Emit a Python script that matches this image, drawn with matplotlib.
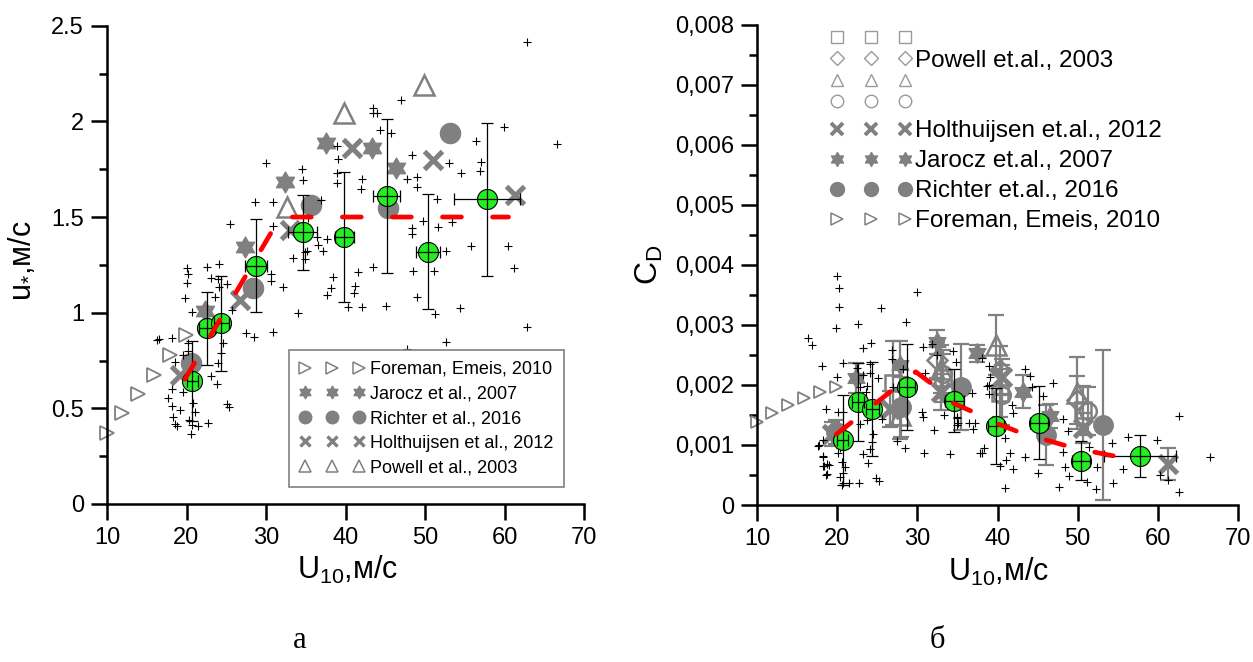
import numpy as np
import matplotlib
matplotlib.use("Agg")
import matplotlib.pyplot as plt
from matplotlib.path import Path
from matplotlib.lines import Line2D
from matplotlib.ticker import MultipleLocator, FuncFormatter

plt.rcParams['font.family'] = ['Liberation Sans', 'DejaVu Sans']
plt.rcParams['mathtext.fontset'] = 'custom'
plt.rcParams['mathtext.rm'] = 'Liberation Sans'
plt.rcParams['mathtext.it'] = 'Liberation Sans:italic'
plt.rcParams['mathtext.bf'] = 'Liberation Sans:bold'

# ---------------- data ----------------
# bin-averaged measurements (green circles)
U10_bins = [20.7, 22.6, 24.4, 28.7, 34.6, 39.85, 45.2, 50.4, 57.8]
ustar_mean = [0.643, 0.918, 0.944, 1.246, 1.42, 1.394, 1.61, 1.319, 1.593]
ustar_err = [0.21, 0.19, 0.25, 0.245, 0.195, 0.34, 0.40, 0.30, 0.40]
ustar_xerr = [0.7, 1.0, 1.0, 1.4, 1.8, 1.2, 1.7, 1.5, 4.2]
cd_mean = [0.00108, 0.00172, 0.00160, 0.00197, 0.00174, 0.00132, 0.00137, 0.00074, 0.00082]
cd_err = [0.00075, 0.00065, 0.00078, 0.00072, 0.00053, 0.00063, 0.00061, 0.00033, 0.00035]
cd_xerr = [0.7, 0.8, 0.8, 1.0, 1.2, 1.0, 1.1, 1.1, 4.5]

# parameterisation curves (red dashed)
ustar_fit_U = [19.8, 31.8, 60.5]
ustar_fit = [0.652, 1.5, 1.5]
cd_fit_U = [19.9, 29.8, 32.0, 34.1, 36.8, 39.9, 42.4, 45.7, 48.2, 51.4, 54.0, 58.0]
cd_fit = [0.00118, 0.00222, 0.00200, 0.00172, 0.00156, 0.00136, 0.00123,
          0.00110, 0.00100, 0.00090, 0.00083, 0.00074]

# individual estimates (black crosses), u* panel
ustar_pts_U = [29.96, 34.57, 34.69, 28.62, 30.84, 25.47, 30.92, 35.32, 36.38, 34.91,
               34.91, 33.43, 30.59, 30.59, 32.18, 20.03, 20.23, 20.10, 22.62, 24.13,
               23.04, 24.00, 25.06, 24.13, 19.81, 23.58, 20.65, 25.76, 34.06, 16.25,
               16.55, 18.14, 20.15, 20.23, 18.55, 18.14, 19.52, 17.63, 18.14, 19.18,
               18.34, 18.55, 18.76, 20.31, 20.65, 21.40, 22.74, 20.52, 20.77, 21.07,
               23.08, 23.87, 24.00, 24.30, 24.55, 25.06, 25.39, 27.45, 28.49, 30.84,
               62.78, 46.93, 43.49, 43.42, 44.00, 44.34, 45.69, 59.94, 56.42, 66.57,
               38.89, 39.09, 48.31, 53.06, 57.00, 56.92, 54.48, 38.89, 38.96, 42.03,
               41.95, 47.69, 48.95, 48.95, 51.46, 36.91, 49.70, 51.67, 48.31, 48.31,
               53.43, 37.62, 36.57, 37.12, 35.12, 52.64, 55.74, 60.48, 61.23, 41.19,
               41.07, 38.14, 37.71, 38.39, 41.61, 43.42, 48.44, 51.13, 49.03, 40.35,
               42.11, 45.09, 54.40, 51.26, 62.79, 52.60, 47.69, 19.52]
ustar_pts = [1.784, 1.750, 1.694, 1.579, 1.579, 1.464, 1.455, 1.493, 1.397, 1.319,
             1.279, 1.284, 1.201, 1.166, 1.133, 1.232, 1.201, 1.154, 1.237, 1.253,
             1.183, 1.175, 1.150, 1.133, 1.078, 1.084, 1.005, 1.014, 0.997, 0.857,
             0.862, 0.869, 0.843, 0.801, 0.744, 0.600, 0.587, 0.556, 0.512, 0.491,
             0.453, 0.418, 0.408, 0.439, 0.413, 0.408, 0.422, 0.364, 0.526, 0.482,
             0.669, 0.627, 0.739, 0.791, 0.843, 0.523, 0.509, 0.895, 0.875, 0.901,
             2.413, 2.112, 2.068, 2.042, 2.045, 1.955, 1.938, 1.969, 1.899, 1.880,
             1.873, 1.802, 1.824, 1.784, 1.790, 1.741, 1.729, 1.729, 1.676, 1.699,
             1.647, 1.697, 1.711, 1.659, 1.594, 1.589, 1.479, 1.446, 1.441, 1.411,
             1.476, 1.384, 1.354, 1.324, 1.324, 1.324, 1.349, 1.349, 1.232, 1.140,
             1.101, 1.128, 1.093, 1.185, 1.214, 1.241, 1.220, 1.220, 1.084, 1.031,
             1.031, 1.035, 1.023, 0.992, 0.927, 0.849, 0.809, 0.779]

# individual estimates (black crosses), C_D panel
cd_pts_U = [19.94, 20.22, 20.22, 19.85, 22.63, 25.46, 29.99, 28.58, 16.40, 16.82,
            24.21, 23.18, 26.80, 30.74, 31.78, 18.07, 20.69, 24.09, 26.80, 22.51,
            19.94, 23.18, 24.09, 25.12, 22.84, 23.75, 23.59, 28.16, 27.00, 30.95,
            18.60, 20.14, 20.76, 22.84, 23.68, 25.55, 24.43, 24.30, 24.09, 23.18,
            23.88, 30.56, 30.68, 32.13, 27.42, 28.45, 30.86, 34.06, 17.77, 18.27,
            18.19, 18.27, 18.69, 19.02, 18.60, 20.14, 20.35, 20.56, 20.97, 20.76,
            20.35, 20.76, 21.51, 22.76, 24.84, 25.25, 20.56, 32.40, 34.48, 34.78,
            33.32, 34.90, 35.02, 38.02, 38.97, 39.05, 38.97, 38.97, 43.42, 44.04,
            44.25, 46.95, 45.62, 36.77, 34.98, 34.98, 36.48, 37.18, 36.98, 38.02,
            38.35, 40.92, 41.76, 41.96, 41.55, 41.05, 40.30, 41.96, 43.42, 45.08,
            40.92, 47.69, 48.19, 48.81, 48.19, 48.40, 48.94, 51.43, 52.36, 54.23,
            54.36, 51.11, 52.27, 56.30, 59.91, 62.66, 55.60, 60.25, 61.29, 62.66,
            66.50, 17.64, 18.20, 18.35, 18.77, 38.63, 37.80]
cd_pts = [0.003817, 0.003612, 0.003295, 0.002955, 0.003017, 0.003288, 0.003545, 0.003045,
          0.002778, 0.002667, 0.002695, 0.002612, 0.002583, 0.002628, 0.002678, 0.002322,
          0.002362, 0.002345, 0.002428, 0.002278, 0.002138, 0.002167, 0.002195, 0.002112,
          0.001972, 0.001983, 0.001888, 0.002262, 0.001962, 0.002205, 0.001595, 0.001555,
          0.001555, 0.001350, 0.001417, 0.001428, 0.001183, 0.001055, 0.000928, 0.000850,
          0.000705, 0.001555, 0.001472, 0.001250, 0.001072, 0.000945, 0.000872, 0.000850,
          0.001000, 0.001083, 0.000805, 0.000650, 0.000683, 0.000667, 0.000500, 0.000872,
          0.000945, 0.000722, 0.000638, 0.000528, 0.000472, 0.000372, 0.000372, 0.000362,
          0.000445, 0.000405, 0.000333, 0.002500, 0.002572, 0.002388, 0.001500, 0.001472,
          0.001362, 0.002455, 0.002317, 0.002138, 0.002000, 0.001850, 0.002262, 0.002155,
          0.001962, 0.002028, 0.001817, 0.001862, 0.001445, 0.001333, 0.001372, 0.001362,
          0.001262, 0.000872, 0.000945, 0.001112, 0.001667, 0.001538, 0.000862, 0.000750,
          0.000650, 0.000595, 0.000805, 0.000528, 0.000278, 0.000305, 0.001428, 0.001233,
          0.000888, 0.000638, 0.000483, 0.000962, 0.000638, 0.001028, 0.000372, 0.000388,
          0.000262, 0.001138, 0.001083, 0.001488, 0.000595, 0.000500, 0.000417, 0.000222,
          0.000805, 0.000983, 0.000820, 0.000650, 0.000517, 0.001980, 0.000860]

# literature data, u* panel
foreman_U = [10.0, 11.9, 13.9, 15.9, 17.9, 19.9]
foreman_ustar = [0.37, 0.474, 0.573, 0.674, 0.779, 0.883]
jarocz_U = [22.3, 27.4, 32.4, 37.5, 43.3, 46.4]
jarocz_ustar = [1.01, 1.345, 1.685, 1.885, 1.863, 1.755]
richter_U = [20.6, 28.4, 35.6, 45.3, 53.2]
richter_ustar = [0.735, 1.128, 1.563, 1.546, 1.937]
holt_U = [19.2, 26.7, 33.0, 40.8, 51.0, 61.3]
holt_ustar = [0.674, 1.066, 1.432, 1.859, 1.80, 1.615]
powell_U = [32.7, 39.8, 49.9]
powell_ustar = [1.554, 2.042, 2.19]

# literature data, C_D panel
foreman_cd = [0.00139, 0.00153, 0.00167, 0.00178, 0.00189, 0.00197]
jarocz_cd_U = [22.4, 27.8, 32.4, 37.4, 43.2, 46.5]
jarocz_cd = [0.00211, 0.00233, 0.00272, 0.00253, 0.00189, 0.00148]
jarocz_cd_err = [0.00025, 0.0004, 0.0002, 0.00014, 0.00028, 0.0002]
richter_cd_U = [19.9, 28.0, 35.5, 46.1, 53.2]
richter_cd = [0.00122, 0.00164, 0.00197, 0.00117, 0.00133]
richter_cd_err = [0.0002, 0.0005, 0.00072, 0.0005, 0.00125]
holt_cd_U = [19.3, 26.6, 33.0, 40.5, 50.7, 61.3]
holt_cd = [0.00119, 0.00160, 0.00188, 0.00214, 0.00128, 0.00068]
holt_cd_err = [0.0002, 0.0003, 0.0003, 0.0003, 0.00025, 0.00027]
powell_sq_U = [27.0, 33.2, 40.3, 50.7]
powell_sq = [0.00203, 0.00211, 0.00186, 0.00158]
powell_sq_err = [0.0007, 0.0004, 0.0004, 0.0004]
powell_dm_U = [32.4, 40.3, 49.9]
powell_dm = [0.00242, 0.00225, 0.00175]
powell_dm_err = [0.0003, 0.0004, 0.0004]
powell_tr_U = [27.8, 33.0, 39.8, 49.9]
powell_tr = [0.00150, 0.00226, 0.00267, 0.00186]
powell_tr_err = [0.0004, 0.0004, 0.0005, 0.0006]
powell_ci_U = [33.2, 40.5, 51.3]
powell_ci = [0.00219, 0.00183, 0.00156]
powell_ci_err = [0.0004, 0.0005, 0.0004]

# ---------------- styles ----------------
GRAY = '#808080'
LGRAY = '#9a9a9a'
GREEN = '#22ee22'
RED = '#ff0000'

ang_out = np.deg2rad(90 + 60 * np.arange(6))
ang_in = ang_out + np.deg2rad(30)
r_in = 1 / np.sqrt(3)
verts = []
for a, b in zip(ang_out, ang_in):
    verts.append((np.cos(a), np.sin(a)))
    verts.append((r_in * np.cos(b), r_in * np.sin(b)))
verts.append(verts[0])
HEXAGRAM = Path(verts, closed=True)

fig = plt.figure(figsize=(12.53, 6.62), dpi=100)
axL = fig.add_axes([107 / 1253, 158 / 662, 477 / 1253, 478.3 / 662])
axR = fig.add_axes([757 / 1253, 157 / 662, 481 / 1253, 480 / 662])


def style_axes(ax):
    for s in ('top', 'right'):
        ax.spines[s].set_visible(False)
    for s in ('left', 'bottom'):
        ax.spines[s].set_linewidth(1.8)
    ax.tick_params(which='major', direction='out', length=11.5, width=1.8,
                   labelsize=17, pad=5)
    ax.tick_params(which='minor', direction='out', length=5.8, width=1.8)
    ax.xaxis.set_major_locator(MultipleLocator(10))
    ax.set_xlim(10, 70)


def fit_line(ax, x, y):
    ln, = ax.plot(x, y, color=RED, lw=3.4, zorder=7, dash_capstyle='round',
                  solid_capstyle='round')
    ln.set_dashes((4.0, 6.6))
    ln.set_dash_capstyle('round')


# ---------------- left panel: u* ----------------
ax = axL
style_axes(ax)
ax.set_ylim(0, 2.5)
ax.yaxis.set_major_locator(MultipleLocator(0.5))
ax.yaxis.set_minor_locator(MultipleLocator(0.25))
ax.yaxis.set_major_formatter(FuncFormatter(lambda v, p: f'{v:g}'))

ax.plot(foreman_U, foreman_ustar, ls='none', marker='>', ms=10, mfc='none',
        mec=GRAY, mew=1.3, zorder=2, clip_on=False)
ax.plot(jarocz_U, jarocz_ustar, ls='none', marker=HEXAGRAM, ms=15, color=GRAY,
        mec=GRAY, zorder=2)
ax.plot(richter_U, richter_ustar, ls='none', marker='o', ms=14.5, color=GRAY,
        mec=GRAY, zorder=2)
ax.plot(holt_U, holt_ustar, ls='none', marker='x', ms=13, mec=GRAY, mew=3.6, zorder=2)
ax.plot(powell_U, powell_ustar, ls='none', marker='^', ms=14, mfc='none',
        mec=GRAY, mew=1.8, zorder=2)
ax.plot(ustar_pts_U, ustar_pts, ls='none', marker='+', ms=5.5, mew=0.8,
        color='black', zorder=3)
ax.plot(U10_bins, ustar_mean, ls='none', marker='o', ms=14.4, mfc=GREEN,
        mec='black', mew=0.8, zorder=4)
ax.errorbar(U10_bins, ustar_mean, yerr=ustar_err, xerr=ustar_xerr, fmt='none',
            ecolor='black', elinewidth=0.9, capsize=4.5, capthick=0.9, zorder=5)
fit_line(ax, ustar_fit_U, ustar_fit)

ax.set_xlabel('U$_{10}$,м/с', fontsize=22)
ax.xaxis.set_label_coords(0.504, -0.105)
ax.xaxis.label.set_va('top')
ax.set_ylabel('u$_{*}$,м/с', fontsize=22)
ax.yaxis.set_label_coords(-0.147, 0.508)

hL = [
    Line2D([], [], ls='none', marker='>', ms=8, mfc='none', mec=GRAY, mew=1.1),
    Line2D([], [], ls='none', marker=HEXAGRAM, ms=9, color=GRAY),
    Line2D([], [], ls='none', marker='o', ms=9, color=GRAY),
    Line2D([], [], ls='none', marker='x', ms=7.5, mec=GRAY, mew=2.4),
    Line2D([], [], ls='none', marker='^', ms=8, mfc='none', mec=GRAY, mew=1.1),
]
lL = ['Foreman, Emeis, 2010', 'Jarocz et al., 2007', 'Richter et al., 2016',
      'Holthuijsen et al., 2012', 'Powell et al., 2003']
legL = ax.legend(hL, lL, loc='lower right', bbox_to_anchor=(0.958, 0.0355),
                 borderaxespad=0, numpoints=3, handlelength=3.58,
                 handletextpad=0.31, labelspacing=0.42, borderpad=0.6,
                 fontsize=13, fancybox=False, framealpha=1, edgecolor=GRAY)
legL.get_frame().set_linewidth(1.2)
legL.set_zorder(10)

# ---------------- right panel: C_D ----------------
ax = axR
style_axes(ax)
ax.set_ylim(0, 0.008)
ax.yaxis.set_major_locator(MultipleLocator(0.001))
ax.yaxis.set_minor_locator(MultipleLocator(0.0005))
ax.yaxis.set_major_formatter(
    FuncFormatter(lambda v, p: '0' if abs(v) < 1e-12 else f'{v:.3f}'.replace('.', ',')))

eb = dict(fmt='none', ecolor=GRAY, elinewidth=1.6, capsize=6, capthick=1.6, zorder=2)
ax.errorbar(jarocz_cd_U, jarocz_cd, yerr=jarocz_cd_err, **eb)
ax.errorbar(richter_cd_U, richter_cd, yerr=richter_cd_err, **eb)
ax.errorbar(holt_cd_U, holt_cd, yerr=holt_cd_err, **eb)
ax.errorbar(powell_sq_U, powell_sq, yerr=powell_sq_err, **eb)
ax.errorbar(powell_dm_U, powell_dm, yerr=powell_dm_err, **eb)
ax.errorbar(powell_tr_U, powell_tr, yerr=powell_tr_err, **eb)
ax.errorbar(powell_ci_U, powell_ci, yerr=powell_ci_err, **eb)

ax.plot(foreman_U, foreman_cd, ls='none', marker='>', ms=9, mfc='none',
        mec=GRAY, mew=1.3, zorder=2, clip_on=False)
ax.plot(jarocz_cd_U, jarocz_cd, ls='none', marker=HEXAGRAM, ms=14, color=GRAY, zorder=2)
ax.plot(richter_cd_U, richter_cd, ls='none', marker='o', ms=14, color=GRAY, zorder=2)
ax.plot(holt_cd_U, holt_cd, ls='none', marker='x', ms=13, mec=GRAY, mew=3.6, zorder=2)
ax.plot(powell_sq_U, powell_sq, ls='none', marker='s', ms=11, mfc='none', mec=GRAY,
        mew=1.8, zorder=2)
ax.plot(powell_dm_U, powell_dm, ls='none', marker='D', ms=10, mfc='none', mec=GRAY,
        mew=1.8, zorder=2)
ax.plot(powell_tr_U, powell_tr, ls='none', marker='^', ms=14, mfc='none', mec=GRAY,
        mew=1.8, zorder=2)
ax.plot(powell_ci_U, powell_ci, ls='none', marker='o', ms=12, mfc='none', mec=GRAY,
        mew=1.8, zorder=2)
ax.plot(cd_pts_U, cd_pts, ls='none', marker='+', ms=5.5, mew=0.8, color='black', zorder=3)
ax.plot(U10_bins, cd_mean, ls='none', marker='o', ms=14.4, mfc=GREEN,
        mec='black', mew=0.8, zorder=4)
ax.errorbar(U10_bins, cd_mean, yerr=cd_err, xerr=cd_xerr, fmt='none',
            ecolor='black', elinewidth=0.9, capsize=4, capthick=0.9, zorder=5)
fit_line(ax, cd_fit_U, cd_fit)

ax.set_xlabel('U$_{10}$,м/с', fontsize=22)
ax.xaxis.set_label_coords(0.503, -0.105)
ax.xaxis.label.set_va('top')
ax.set_ylabel('C$_\\mathrm{D}$', fontsize=23)
ax.yaxis.set_label_coords(-0.191, 0.5)

hR_top = [
    Line2D([], [], ls='none', marker='s', ms=9, mfc='none', mec=LGRAY, mew=1.0),
    Line2D([], [], ls='none', marker='D', ms=7, mfc='none', mec=LGRAY, mew=1.0),
    Line2D([], [], ls='none', marker='^', ms=9, mfc='none', mec=LGRAY, mew=1.0),
    Line2D([], [], ls='none', marker='o', ms=9, mfc='none', mec=LGRAY, mew=1.0),
]
lR_top = ['', 'Powell et.al., 2003', '', '']
hR_bot = [
    Line2D([], [], ls='none', marker='x', ms=9, mec=GRAY, mew=2.8),
    Line2D([], [], ls='none', marker=HEXAGRAM, ms=10, color=GRAY),
    Line2D([], [], ls='none', marker='o', ms=10, color=GRAY),
    Line2D([], [], ls='none', marker='>', ms=9, mfc='none', mec=GRAY, mew=1.1),
]
lR_bot = ['Holthuijsen et.al., 2012', 'Jarocz et.al., 2007', 'Richter et.al., 2016',
          'Foreman, Emeis, 2010']
common = dict(loc='upper left', borderaxespad=0, borderpad=0, numpoints=3,
              handlelength=3.41, handletextpad=0.11, fontsize=17.5, frameon=False)
legRt = ax.legend(hR_top, lR_top, bbox_to_anchor=(0.1505, 0.9927),
                  labelspacing=-0.03, **common)
ax.add_artist(legRt)
legRb = ax.legend(hR_bot, lR_bot, bbox_to_anchor=(0.1505, 0.8017),
                  labelspacing=0.33, **common)

# panel letters
fig.text(300 / 1253, 1 - 640 / 662, 'а', family='Liberation Serif', fontsize=22,
         ha='center', va='center')
fig.text(937 / 1253, 1 - 640 / 662, 'б', family='Liberation Serif', fontsize=22,
         ha='center', va='center')

fig.savefig('out.png', dpi=100)
